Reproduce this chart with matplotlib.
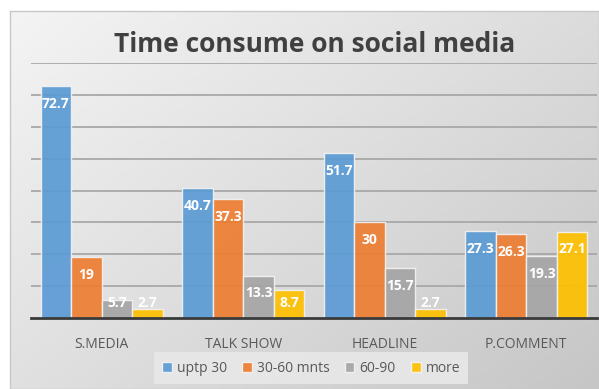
import matplotlib.pyplot as plt
import numpy as np
from matplotlib.colors import LinearSegmentedColormap

categories = ["S.MEDIA", "TALK SHOW", "HEADLINE", "P.COMMENT"]
series_names = ["uptp 30", "30-60 mnts", "60-90", "more"]
uptp_30 = [72.7, 40.7, 51.7, 27.3]
mnts_30_60 = [19, 37.3, 30, 26.3]
mnts_60_90 = [5.7, 13.3, 15.7, 19.3]
more = [2.7, 8.7, 2.7, 27.1]

colors = ["#5b9bd5", "#ed7d31", "#a5a5a5", "#ffc000"]
values = [uptp_30, mnts_30_60, mnts_60_90, more]

plt.rcParams["font.family"] = ["Open Sans", "DejaVu Sans"]

W, H = 599, 389
fig = plt.figure(figsize=(W / 100, H / 100), dpi=100)
fig.patch.set_facecolor("white")

# gradient chart background, light at top-left, darker towards bottom-right
bg = fig.add_axes([10 / W, 0, 1 - 10 / W, 1 - 11 / H], zorder=0)
yy, xx = np.mgrid[0:1:200j, 0:1:300j]
shade = np.clip(0.55 * xx + 0.45 * yy, 0, 1)
cmap = LinearSegmentedColormap.from_list("bg", ["#f4f4f4", "#dedede", "#c6c6c6"])
bg.imshow(shade, cmap=cmap, aspect="auto", extent=[0, 1, 0, 1], origin="upper")
bg.set_xticks([])
bg.set_yticks([])
for s in bg.spines.values():
    s.set_color("#c8c8c8")
    s.set_linewidth(1)

ax = fig.add_axes([31 / W, 1 - 318 / H, (597 - 31) / W, (318 - 63) / H], zorder=1)
ax.patch.set_alpha(0)

x = np.arange(len(categories))
width = 0.216
offsets = [-1.5, -0.5, 0.5, 1.5]
for vals, off, c, name in zip(values, offsets, colors, series_names):
    pos = x + off * width
    ax.bar(pos, vals, width=width, color=c, edgecolor="#f2f2f2",
           linewidth=1.0, label=name, zorder=3, alpha=0.92)
    for px, v in zip(pos, vals):
        ly = max(v - 5.6, 4.7)
        ax.text(px, ly, f"{v:g}", ha="center", va="center", color="white",
                fontsize=10, fontweight="bold", zorder=4)

ax.set_xlim(-0.5, 3.5)
ax.set_ylim(0, 80)
ax.set_yticks(np.arange(10, 81, 10))
ax.yaxis.grid(True, color="#a8a8a8", linewidth=1.3, zorder=0)
ax.tick_params(axis="y", left=False, labelleft=False)
ax.set_xticks(x)
ax.set_xticklabels(categories, fontsize=10, color="#595959")
ax.tick_params(axis="x", length=0, pad=14)
for side in ["top", "right", "left"]:
    ax.spines[side].set_visible(False)
ax.spines["bottom"].set_color("#3a3a3a")
ax.spines["bottom"].set_linewidth(2)
ax.spines["bottom"].set_zorder(5)

fig.text(315 / W, 1 - 44 / H, "Time consume on social media", ha="center",
         va="center", fontsize=19, fontweight="bold", color="#404040")

leg = fig.legend(loc="center", bbox_to_anchor=(311 / W, 1 - 368 / H), ncol=4,
                 frameon=True, fontsize=10, handlelength=0.7, handleheight=0.7,
                 handletextpad=0.35, columnspacing=1.1, borderpad=0.6,
                 fancybox=False)
leg.get_frame().set_facecolor("#e8e8e8")
leg.get_frame().set_edgecolor("none")
leg.get_frame().set_alpha(0.9)
for t in leg.get_texts():
    t.set_color("#595959")

fig.savefig("out.png", dpi=100)
